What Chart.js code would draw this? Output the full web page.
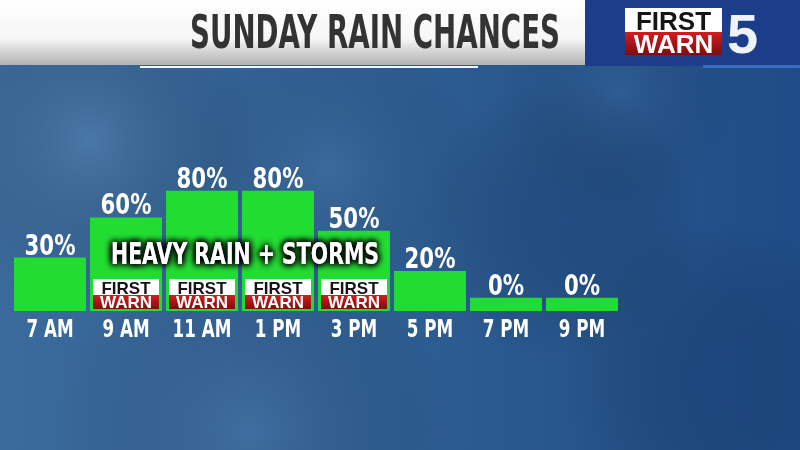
<!DOCTYPE html>
<html>
<head>
<meta charset="utf-8">
<script src="https://cdn.jsdelivr.net/npm/chart.js@4.4.1/dist/chart.umd.min.js"></script>
<style>
  html, body { margin: 0; padding: 0; background: #2a5a8e; }
  #wrap { width: 800px; height: 450px; position: relative; overflow: hidden; }
</style>
</head>
<body>
<div id="wrap"><canvas id="chart" width="800" height="450"></canvas></div>
<script>
const categories = ["7 AM", "9 AM", "11 AM", "1 PM", "3 PM", "5 PM", "7 PM", "9 PM"]
const rainChance = [30, 60, 80, 80, 50, 20, 0, 0]
const firstWarnBars = [false, true, true, true, true, false, false, false]
const titleText = "SUNDAY RAIN CHANCES"
const overlayText = "HEAVY RAIN + STORMS"

const FONT = "'DejaVu Sans', sans-serif"
const BAR_GREEN = "#21dc31"

// no narrow font installed, so squeeze text horizontally
function squeezedText(ctx, text, x, y, factor) {
  const w = ctx.measureText(text).width
  ctx.fillText(text, x, y, w * factor)
}

// small FIRST / WARN badge, drawn with real text
function drawBadge(ctx, x, y, w, h, size) {
  const topH = Math.round(h * 0.52)
  ctx.fillStyle = "#ffffff"
  ctx.fillRect(x, y, w, topH)
  const red = ctx.createLinearGradient(0, y + topH, 0, y + h)
  red.addColorStop(0, "#d41c20")
  red.addColorStop(1, "#7e0d10")
  ctx.fillStyle = red
  ctx.fillRect(x, y + topH, w, h - topH)
  ctx.textAlign = "center"
  ctx.textBaseline = "alphabetic"
  ctx.font = `bold ${size}px 'Liberation Sans', Arial, sans-serif`
  ctx.fillStyle = "#151515"
  ctx.fillText("FIRST", x + w / 2, y + topH - h * 0.05, w - 6)
  ctx.fillStyle = "#ffffff"
  ctx.fillText("WARN", x + w / 2, y + h - h * 0.05, w - 6)
}

const backdrop = {
  id: "backdrop",
  beforeDraw(chart) {
    const { ctx, width, height } = chart
    ctx.save()
    const base = ctx.createLinearGradient(0, 0, width, 0)
    base.addColorStop(0, "#3b6b9c")
    base.addColorStop(0.45, "#2f5f93")
    base.addColorStop(1, "#1f4c86")
    ctx.fillStyle = base
    ctx.fillRect(0, 0, width, height)

    const blobs = [
      [90, 140, 170, "rgba(120,160,200,0.28)"],
      [330, 170, 150, "rgba(110,150,195,0.18)"],
      [250, 430, 200, "rgba(110,150,195,0.22)"],
      [560, 220, 140, "rgba(20,50,100,0.25)"],
      [720, 380, 160, "rgba(15,45,95,0.25)"],
      [620, 90, 120, "rgba(100,140,190,0.15)"],
    ]
    blobs.forEach(([x, y, r, c]) => {
      const g = ctx.createRadialGradient(x, y, 0, x, y, r)
      g.addColorStop(0, c)
      g.addColorStop(1, "rgba(0,0,0,0)")
      ctx.fillStyle = g
      ctx.fillRect(0, 0, width, height)
    })

    // header band
    const band = ctx.createLinearGradient(0, 0, 0, 65)
    band.addColorStop(0, "#ffffff")
    band.addColorStop(0.6, "#f6f6f6")
    band.addColorStop(0.8, "#d2d2d2")
    band.addColorStop(1, "#b4b4b4")
    ctx.fillStyle = band
    ctx.fillRect(0, 0, 585, 65)
    ctx.fillStyle = "#f4f6fa"
    ctx.fillRect(140, 66, 338, 2)

    ctx.fillStyle = "#333333"
    ctx.font = `bold 46px ${FONT}`
    ctx.textAlign = "left"
    ctx.textBaseline = "alphabetic"
    ctx.fillText(titleText, 190, 48, 370)

    // station logo
    ctx.fillStyle = "#1b3d8a"
    ctx.fillRect(585, 0, 215, 66)
    ctx.fillStyle = "#3a6cc2"
    ctx.fillRect(703, 65, 97, 3)
    drawBadge(ctx, 625, 8, 97, 47, 26)
    ctx.fillStyle = "#eef2fb"
    ctx.font = `bold 56px 'Liberation Sans', Arial, sans-serif`
    ctx.textAlign = "left"
    ctx.fillText("5", 727, 53)
    ctx.restore()
  },
}

const barDecor = {
  id: "barDecor",
  afterDatasetsDraw(chart) {
    const { ctx } = chart
    const xScale = chart.scales.x
    const bars = chart.getDatasetMeta(0).data
    ctx.save()

    bars.forEach((bar, i) => {
      if (!firstWarnBars[i]) return
      const left = bar.x - bar.width / 2
      drawBadge(ctx, left + 3, bar.base - 32, bar.width - 6, 30, 17)
    })

    ctx.fillStyle = "#ffffff"
    ctx.textAlign = "center"
    ctx.textBaseline = "alphabetic"

    // category labels at the x scale's tick positions
    ctx.font = `bold 25px ${FONT}`
    xScale.ticks.forEach((t, i) => {
      squeezedText(ctx, xScale.getLabelForValue(t.value), xScale.getPixelForTick(i), 337, 0.67)
    })

    ctx.font = `bold 28px ${FONT}`
    bars.forEach((bar, i) => {
      squeezedText(ctx, rainChance[i] + "%", bar.x, bar.y - 3, 0.76)
    })

    const idx = firstWarnBars.map((f, i) => (f ? i : -1)).filter((i) => i >= 0)
    const cx = (bars[idx[0]].x + bars[idx[idx.length - 1]].x) / 2 + 5
    ctx.font = `bold 30px ${FONT}`
    ctx.shadowColor = "rgba(0,0,0,1)"
    ctx.shadowBlur = 7
    for (let k = 0; k < 4; k++) ctx.fillText(overlayText, cx, 264, 268)
    ctx.restore()
  },
}

new Chart(document.getElementById("chart"), {
  type: "bar",
  data: {
    labels: categories,
    datasets: [
      {
        label: "Rain chance",
        data: rainChance,
        base: -10,
        backgroundColor: BAR_GREEN,
        borderWidth: 0,
        barPercentage: 0.947,
        categoryPercentage: 1,
      },
    ],
  },
  options: {
    responsive: false,
    animation: false,
    layout: { padding: { left: 12, right: 180, top: 164, bottom: 139 } },
    plugins: { legend: { display: false }, tooltip: { enabled: false } },
    scales: {
      x: {
        grid: { display: false, drawTicks: false },
        border: { display: false },
        ticks: { display: false, autoSkip: false },
      },
      y: { display: false, min: -10, max: 100 },
    },
  },
  plugins: [backdrop, barDecor],
})
</script>
</body>
</html>
